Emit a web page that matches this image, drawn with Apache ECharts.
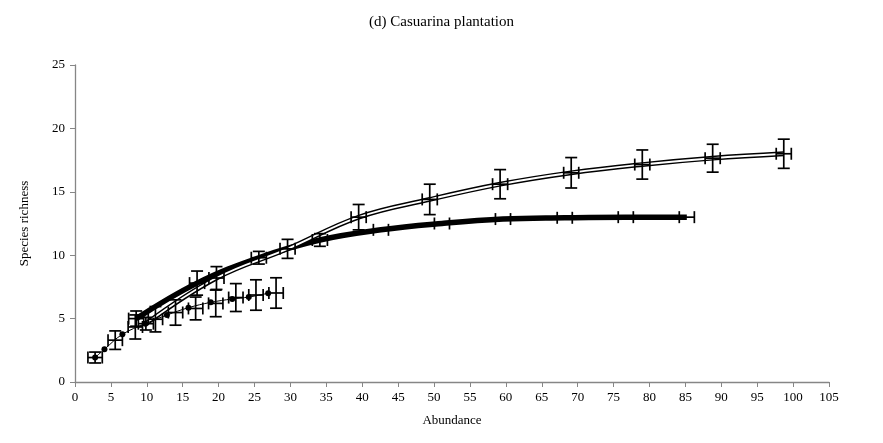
<!DOCTYPE html>
<html>
<head>
<meta charset="utf-8">
<script src="https://cdn.jsdelivr.net/npm/echarts@6/dist/echarts.min.js"></script>
<style>
html,body{margin:0;padding:0;background:#fff;}
#chart{width:883px;height:443px;}
</style>
</head>
<body>
<div id="chart"></div>
<script>
// Rarefaction curves, Casuarina plantation
var xTicks = [0,5,10,15,20,25,30,35,40,45,50,55,60,65,70,75,80,85,90,95,100,105];

// curve drawn as a double line
var dblX    = [9.87, 19.7, 29.6, 39.5, 49.4, 59.2, 69.1, 79.0, 88.8, 98.7];
var dblY    = [4.6, 8.2, 10.5, 13.0, 14.4, 15.6, 16.5, 17.15, 17.65, 18.0];
var dblXErr = [1.05,1.05,1.05,1.05,1.05,1.05,1.05,1.05,1.05,1.05];
var dblYErr = [0.5, 0.9, 0.75, 1.0, 1.2, 1.15, 1.2, 1.15, 1.1, 1.15];

// curve drawn as a thick line
var thkX    = [8.52, 17.0, 25.6, 34.1, 42.6, 51.1, 59.6, 68.2, 76.7, 85.2];
var thkY    = [5.0, 7.8, 9.8, 11.2, 12.0, 12.5, 12.85, 12.95, 13.0, 13.0];
var thkXErr = [1.05,1.05,1.05,1.05,1.05,1.05,1.05,1.05,1.05,1.05];
var thkYErr = [0.6, 0.95, 0.5, 0.5, 0, 0, 0, 0, 0, 0];

// small-sample curve: error crosses
var smlX    = [2.8, 5.6, 8.4, 11.2, 14.0, 16.8, 19.6, 22.4, 25.2, 28.0];
var smlY    = [1.93, 3.3, 4.34, 4.95, 5.48, 5.8, 6.2, 6.66, 6.86, 7.02];
var smlXErr = [1.0,1.0,1.0,1.0,1.0,1.0,1.0,1.0,1.0,1.0];
var smlYErr = [0.43, 0.73, 0.95, 1.0, 1.0, 0.9, 1.05, 1.1, 1.2, 1.2];

// small-sample curve: dot markers
var dotX    = [2.8, 4.1, 6.6, 9.8, 12.8, 15.8, 18.9, 21.9, 24.2, 26.9];
var dotY    = [1.93, 2.58, 3.76, 4.6, 5.28, 5.86, 6.28, 6.55, 6.7, 7.0];

function pairs(xs, ys){ return xs.map(function(x,i){ return [x, ys[i]]; }); }
function errData(xs, ys, ex, ey){ return xs.map(function(x,i){ return [x, ys[i], ex[i], ey[i]]; }); }

function errorBars(api){
  var x = api.value(0), y = api.value(1), ex = api.value(2), ey = api.value(3);
  var c = api.coord([x, y]);
  var l = api.coord([x - ex, y]), r = api.coord([x + ex, y]);
  var t = api.coord([x, y + ey]), b = api.coord([x, y - ey]);
  var cap = 6;
  var st = {stroke:'#000', lineWidth:1.7};
  var kids = [];
  kids.push({type:'line', shape:{x1:l[0],y1:c[1],x2:r[0],y2:c[1]}, style:st});
  kids.push({type:'line', shape:{x1:l[0],y1:c[1]-cap,x2:l[0],y2:c[1]+cap}, style:st});
  kids.push({type:'line', shape:{x1:r[0],y1:c[1]-cap,x2:r[0],y2:c[1]+cap}, style:st});
  if (ey > 0) {
    kids.push({type:'line', shape:{x1:c[0],y1:t[1],x2:c[0],y2:b[1]}, style:st});
    kids.push({type:'line', shape:{x1:c[0]-cap,y1:t[1],x2:c[0]+cap,y2:t[1]}, style:st});
    kids.push({type:'line', shape:{x1:c[0]-cap,y1:b[1],x2:c[0]+cap,y2:b[1]}, style:st});
  }
  return {type:'group', children:kids};
}

var chart = echarts.init(document.getElementById('chart'), null, {renderer:'canvas'});
var serif = '"Liberation Serif","Times New Roman",serif';
chart.setOption({
  animation:false,
  backgroundColor:'#fff',
  title:{text:'(d) Casuarina plantation', left:'center', top:10,
    textStyle:{fontFamily:serif, fontSize:15, fontWeight:'normal', color:'#000'}},
  grid:{left:75, right:54, top:65, bottom:61},
  xAxis:{type:'value', min:0, max:105, interval:5,
    name:'Abundance', nameLocation:'middle', nameGap:32,
    nameTextStyle:{fontFamily:serif, fontSize:13, color:'#000'},
    axisLine:{lineStyle:{color:'#868686', width:1.3}},
    axisTick:{show:true, length:5, lineStyle:{color:'#868686'}},
    axisLabel:{fontFamily:serif, fontSize:13, color:'#000', margin:9},
    splitLine:{show:false}},
  yAxis:{type:'value', min:0, max:25, interval:5,
    name:'Species richness', nameLocation:'middle', nameGap:44,
    nameTextStyle:{fontFamily:serif, fontSize:13, color:'#000'},
    axisLine:{show:true, lineStyle:{color:'#868686', width:1.3}},
    axisTick:{show:true, length:5, lineStyle:{color:'#868686'}},
    axisLabel:{fontFamily:serif, fontSize:13, color:'#000', margin:10},
    splitLine:{show:false}},
  series:[
    {type:'line', data:pairs(thkX, thkY), smooth:0.4, symbol:'none',
      lineStyle:{color:'#000', width:5.5}, z:3},
    {type:'line', data:pairs(dblX, dblY), smooth:0.4, symbol:'none',
      lineStyle:{color:'#000', width:4.8}, z:4},
    {type:'line', data:pairs(dblX, dblY), smooth:0.4, symbol:'none',
      lineStyle:{color:'#fff', width:1.9}, z:5},
    {type:'line', data:pairs(dotX, dotY), smooth:0.4, symbol:'circle', symbolSize:6,
      itemStyle:{color:'#000'}, lineStyle:{color:'#000', width:1}, z:6},
    {type:'custom', renderItem:function(p,api){return errorBars(api);}, data:errData(thkX,thkY,thkXErr,thkYErr), z:7},
    {type:'custom', renderItem:function(p,api){return errorBars(api);}, data:errData(dblX,dblY,dblXErr,dblYErr), z:7},
    {type:'custom', renderItem:function(p,api){return errorBars(api);}, data:errData(smlX,smlY,smlXErr,smlYErr), z:7}
  ]
});
</script>
</body>
</html>
